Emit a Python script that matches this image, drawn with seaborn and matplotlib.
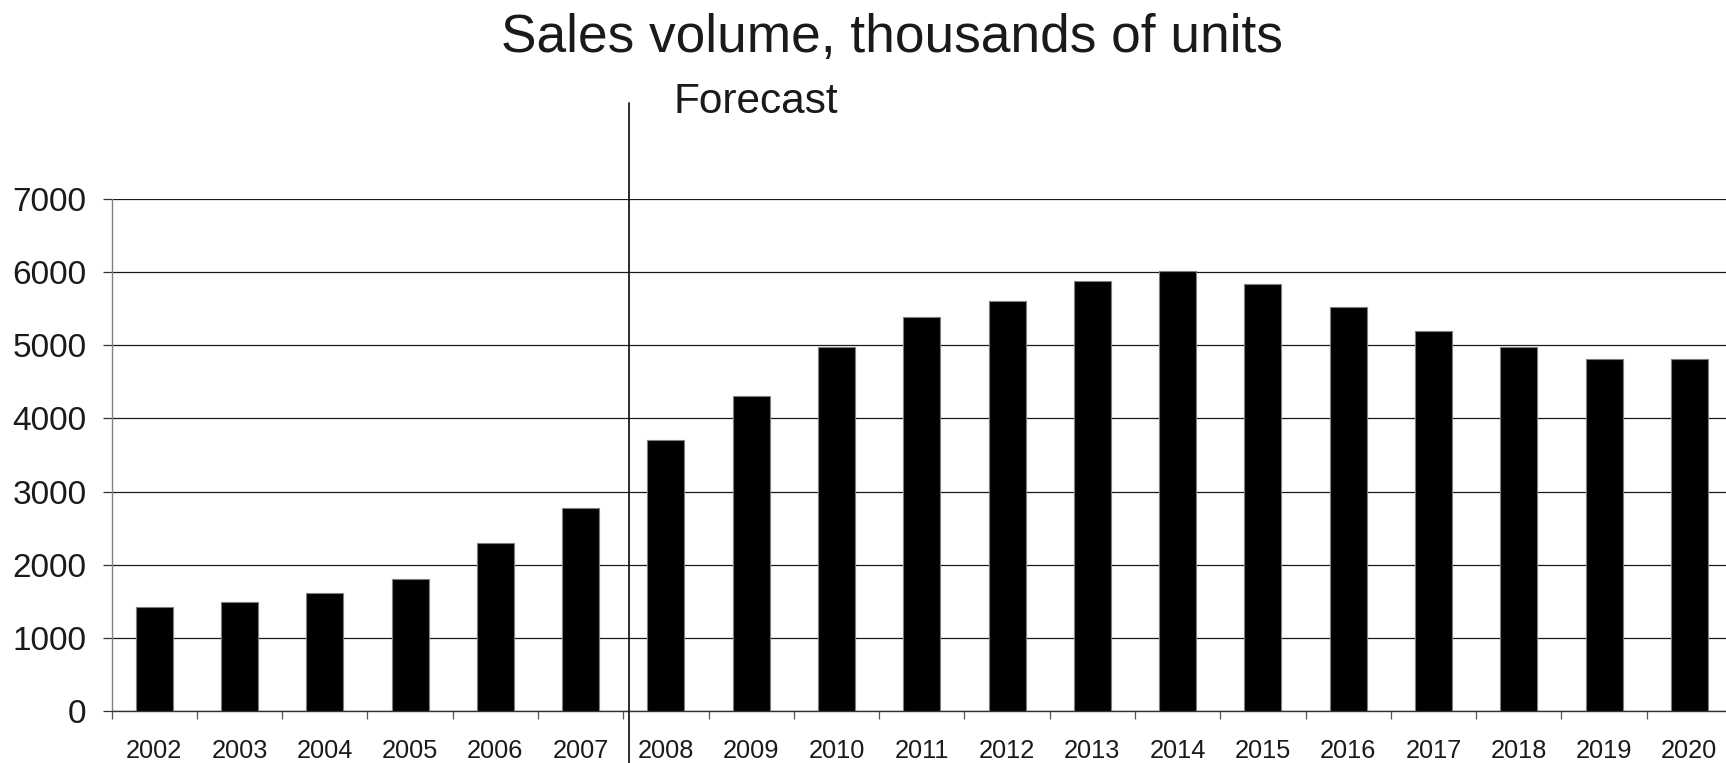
import matplotlib
matplotlib.use("Agg")
import matplotlib.pyplot as plt
import matplotlib.transforms as mtransforms
import seaborn as sns
import pandas as pd
import numpy as np

years = [str(y) for y in range(2002, 2021)]
sales = [1420, 1490, 1620, 1810, 2300, 2780, 3710, 4300, 4980, 5390,
         5610, 5880, 6010, 5840, 5520, 5200, 4980, 4810, 4810]
yticks = [0, 1000, 2000, 3000, 4000, 5000, 6000, 7000]
title = "Sales volume, thousands of units"
forecast_label = "Forecast"

sns.set_theme(style="white")
plt.rcParams['font.family'] = ['Liberation Sans', 'DejaVu Sans']
TXT = '#1a1a1a'

W, H = 1726, 763
fig = plt.figure(figsize=(W / 100, H / 100), dpi=100)
fig.patch.set_facecolor('white')

left_px, right_px = 111.6, 1732.0
bottom_px, top_px = 711.0, 199.0
ax = fig.add_axes([left_px / W, (H - bottom_px) / H,
                   (right_px - left_px) / W, (bottom_px - top_px) / H])
ax.set_facecolor('white')

df = pd.DataFrame({"year": years, "sales": sales})
sns.barplot(data=df, x="year", y="sales", color="black", saturation=1,
            width=0.434, edgecolor="#7f7f7f", linewidth=0.8, ax=ax, zorder=3)

ax.set_xlim(-0.5, 18.5)
ax.set_ylim(0, 7000)
ax.set_yticks(yticks)
ax.set_yticklabels([str(v) for v in yticks])
ax.set_xlabel("")
ax.set_ylabel("")

ax.yaxis.grid(True, color='#1a1a1a', linewidth=0.9)
ax.xaxis.grid(False)
ax.set_axisbelow(True)

for s in ['top', 'right']:
    ax.spines[s].set_visible(False)
ax.spines['left'].set_color('#808080')
ax.spines['left'].set_linewidth(1.0)
ax.spines['bottom'].set_color('#333333')
ax.spines['bottom'].set_linewidth(1.0)

ax.tick_params(axis='y', which='major', direction='out', length=6.7, width=0.9,
               color='#333333', pad=11.5, labelsize=24, labelcolor=TXT, left=True)
ax.tick_params(axis='x', which='major', length=0, pad=20, labelsize=18.3,
               labelcolor=TXT)
ax.set_xticks(np.arange(-0.5, 19.0, 1.0), minor=True)
ax.tick_params(axis='x', which='minor', direction='out', length=5.8, width=0.9,
               color='#555555', bottom=True)

# forecast divider
trans = mtransforms.blended_transform_factory(ax.transData, fig.transFigure)
ax.plot([5.567, 5.567], [0.0, (H - 103) / H], transform=trans, color='#1a1a1a',
        linewidth=1.3, clip_on=False, zorder=5)

fig.text(892 / W, (H - 52) / H, title, ha='center', va='baseline',
         fontsize=38.3, color=TXT)
fig.text(673 / W, (H - 113) / H, forecast_label, ha='left', va='baseline',
         fontsize=30.5, color=TXT)

fig.savefig("out.png", dpi=100, facecolor='white')
